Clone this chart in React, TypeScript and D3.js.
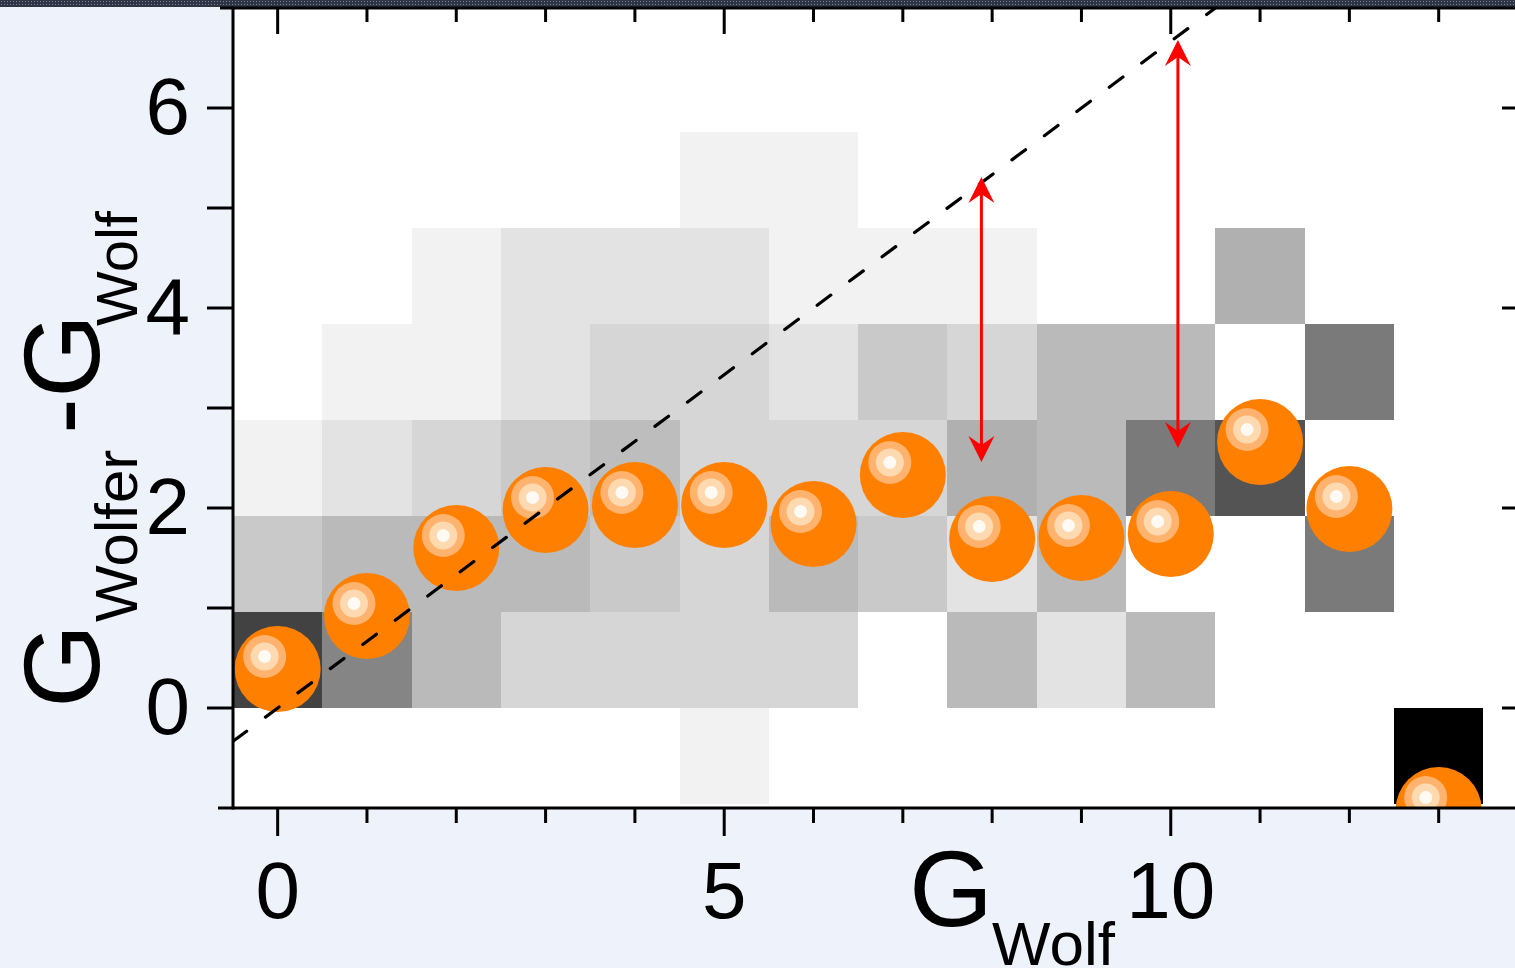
import React from "react";
import * as d3 from "d3";

// ---- data ----
const xValues = [0, 1, 2, 3, 4, 5, 6, 7, 8, 9, 10, 11, 12, 13];
const meanValues = [0.39, 0.92, 1.6, 1.98, 2.03, 2.03, 1.84, 2.33, 1.69, 1.7, 1.74, 2.66, 1.99, -1.02];
const binLower = [-0.96, 0, 0.96, 1.92, 2.88, 3.84, 4.8];
const binHeight = 0.96;
// per-column fraction in each bin (bins from lowest to highest)
const heatCol0 = [0, 0.74, 0.21, 0.05, 0, 0, 0];
const heatCol1 = [0, 0.48, 0.27, 0.11, 0.05, 0, 0];
const heatCol2 = [0, 0.27, 0.27, 0.16, 0.05, 0.05, 0];
const heatCol3 = [0, 0.16, 0.27, 0.21, 0.11, 0.11, 0];
const heatCol4 = [0, 0.16, 0.21, 0.26, 0.16, 0.11, 0];
const heatCol5 = [0.05, 0.16, 0.16, 0.16, 0.16, 0.11, 0.05];
const heatCol6 = [0, 0.16, 0.27, 0.16, 0.11, 0.05, 0.05];
const heatCol7 = [0, 0, 0.21, 0.16, 0.21, 0.05, 0];
const heatCol8 = [0, 0.27, 0.11, 0.31, 0.16, 0.05, 0];
const heatCol9 = [0, 0.11, 0.27, 0.27, 0.27, 0, 0];
const heatCol10 = [0, 0.27, 0, 0.52, 0.27, 0, 0];
const heatCol11 = [0, 0, 0, 0.67, 0, 0.31, 0];
const heatCol12 = [0, 0, 0.52, 0, 0.52, 0, 0];
const heatCol13 = [1, 0, 0, 0, 0, 0, 0];
const heatColumns = [heatCol0, heatCol1, heatCol2, heatCol3, heatCol4, heatCol5, heatCol6, heatCol7, heatCol8, heatCol9, heatCol10, heatCol11, heatCol12, heatCol13];

const xMajorTicks = [0, 5, 10];
const xAllTicks = [0, 1, 2, 3, 4, 5, 6, 7, 8, 9, 10, 11, 12, 13, 14];
const yMajorTicks = [0, 2, 4, 6];
const yAllTicks = [0, 1, 2, 3, 4, 5, 6];
const arrowX = [7.88, 10.08];
const arrowLow = [2.46, 2.6];
const arrowHigh = [5.31, 6.68];
const diagSlope = 2 / 3;

const W = 1515;
const H = 968;
const FONT = "'Liberation Sans', Arial, Helvetica, sans-serif";

export default function App() {
  const x = d3.scaleLinear().domain([-0.5, 14]).range([233, 1528]);
  const y = d3.scaleLinear().domain([-1, 7]).range([808, 8]);
  const gray = d3.scaleLinear<string>().domain([0, 1]).range(["#ffffff", "#000000"]);
  const R = 43;

  const cells: { x0: number; x1: number; y0: number; y1: number; v: number }[] = [];
  heatColumns.forEach((col, i) => {
    col.forEach((v, j) => {
      if (v > 0) {
        cells.push({
          x0: x(xValues[i] - 0.5),
          x1: x(xValues[i] + 0.5),
          y0: y(binLower[j] + binHeight),
          y1: y(binLower[j]),
          v,
        });
      }
    });
  });

  const diag = d3.line<number>().x((d) => x(d)).y((d) => y(d * diagSlope));
  const [xd0, xd1] = x.domain();

  const arrowHead = (px: number, py: number, dir: number) => {
    // dir = -1 pointing up, +1 pointing down
    const L = 26, hw = 13, notch = 17;
    return `M${px},${py} L${px - hw},${py - dir * L} L${px},${py - dir * notch} L${px + hw},${py - dir * L} Z`;
  };

  return (
    <svg width={W} height={H} style={{ position: "absolute", left: 0, top: 0, display: "block" }} fontFamily={FONT}>
      <defs>
        <clipPath id="plotClip">
          <rect x={x(-0.5)} y={y(7)} width={x(14) - x(-0.5)} height={y(-1) - y(7)} />
        </clipPath>
        <pattern id="stripPat" width="3" height="3" patternUnits="userSpaceOnUse">
          <rect width="3" height="3" fill="#2f3544" />
          <rect x="1" y="1" width="1" height="1" fill="#7a8496" />
        </pattern>
      </defs>
      <rect x={0} y={0} width={W} height={H} fill="#eef3fb" />
      <rect x={x(-0.5)} y={y(7)} width={x(14) - x(-0.5)} height={y(-1) - y(7)} fill="#ffffff" />
      <rect x={0} y={0} width={W} height={7} fill="url(#stripPat)" />

      <g clipPath="url(#plotClip)">
        {cells.map((c, i) => (
          <rect key={i} x={c.x0} y={c.y0} width={c.x1 - c.x0} height={c.y1 - c.y0} fill={gray(c.v)} shapeRendering="crispEdges" />
        ))}
        {xValues.map((xv, i) => {
          const cx = x(xv);
          const cy = y(meanValues[i]);
          return (
            <g key={i}>
              <circle cx={cx} cy={cy} r={R} fill="#ff8000" />
              <circle cx={cx - 13} cy={cy - 12.5} r={21.5} fill="#ffb36e" />
              <circle cx={cx - 13} cy={cy - 12.5} r={14} fill="#ffd9b0" />
              <circle cx={cx - 13} cy={cy - 12.5} r={6.5} fill="#fffaf3" />
            </g>
          );
        })}
        <path d={diag([xd0, xd1]) || ""} fill="none" stroke="#000" strokeWidth={3.2} strokeDasharray="17 23.5" strokeLinecap="round" />
        {arrowX.map((ax, i) => {
          const px = x(ax);
          const yl = y(arrowLow[i]);
          const yh = y(arrowHigh[i]);
          return (
            <g key={i}>
              <line x1={px} x2={px} y1={yh + 15} y2={yl - 15} stroke="#ff0000" strokeWidth={3} />
              <path d={arrowHead(px, yh, -1)} fill="#ff0000" />
              <path d={arrowHead(px, yl, 1)} fill="#ff0000" />
            </g>
          );
        })}
      </g>

      {/* axes lines */}
      <line x1={x(-0.5)} x2={x(-0.5)} y1={y(7)} y2={y(-1) + 1.5} stroke="#000" strokeWidth={3} />
      <line x1={218} x2={W} y1={y(-1)} y2={y(-1)} stroke="#000" strokeWidth={3} />
      <line x1={220} x2={W} y1={y(7)} y2={y(7)} stroke="#000" strokeWidth={3} />

      {/* bottom ticks (outward) */}
      {xAllTicks.map((t) => {
        const major = xMajorTicks.includes(t);
        return <line key={"b" + t} x1={x(t)} x2={x(t)} y1={y(-1)} y2={y(-1) + (major ? 28 : 15)} stroke="#000" strokeWidth={3} />;
      })}
      {/* top ticks (inward) */}
      {xAllTicks.map((t) => {
        const major = xMajorTicks.includes(t);
        return <line key={"t" + t} x1={x(t)} x2={x(t)} y1={y(7)} y2={y(7) + (major ? 26 : 14)} stroke="#000" strokeWidth={3} />;
      })}
      {/* left ticks (outward) */}
      {yAllTicks.map((t) => (
        <line key={"l" + t} x1={x(-0.5) - 26} x2={x(-0.5)} y1={y(t)} y2={y(t)} stroke="#000" strokeWidth={3} />
      ))}
      {/* right ticks (inward) */}
      {yAllTicks.map((t) => {
        const major = yMajorTicks.includes(t);
        return <line key={"r" + t} x1={x(14) - (major ? 26 : 13)} x2={x(14)} y1={y(t)} y2={y(t)} stroke="#000" strokeWidth={3} />;
      })}

      {/* tick labels */}
      {xMajorTicks.map((t) => (
        <text key={"xl" + t} x={x(t)} y={918} fontSize={80} textAnchor="middle" fill="#000">
          {t}
        </text>
      ))}
      {yMajorTicks.map((t) => (
        <text key={"yl" + t} x={190} y={y(t) + 26} fontSize={80} textAnchor="end" fill="#000">
          {t}
        </text>
      ))}

      {/* x title */}
      <text x={909} y={926} fontSize={108} fill="#000">G</text>
      <text x={992} y={965} fontSize={62} fill="#000">Wolf</text>

      {/* y title */}
      <g transform="rotate(-90)">
        <text x={-708} y={99} fontSize={108} fill="#000">G</text>
        <text x={-622} y={137} fontSize={60} fill="#000">Wolfer</text>
        <text x={-434} y={99} fontSize={108} fill="#000">-G</text>
        <text x={-326} y={137} fontSize={58} fill="#000">Wolf</text>
      </g>
    </svg>
  );
}
